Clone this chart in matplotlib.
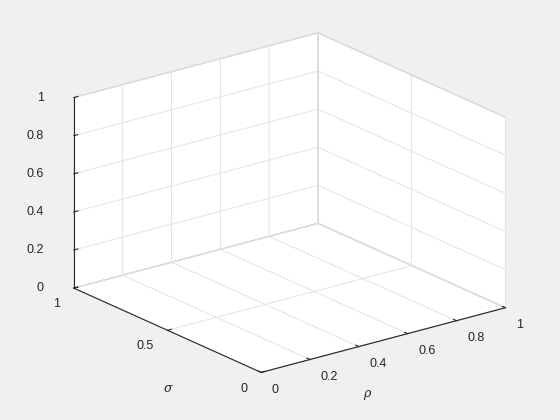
import matplotlib
matplotlib.use('Agg')
import matplotlib.pyplot as plt

# axis ticks and labels (empty 3D axes)
rho_ticks = [0, 0.2, 0.4, 0.6, 0.8, 1]
rho_labels = ['0', '0.2', '0.4', '0.6', '0.8', '1']
sigma_ticks = [0, 0.5, 1]
sigma_labels = ['0', '0.5', '1']
z_ticks = [0, 0.2, 0.4, 0.6, 0.8, 1]
z_labels = ['0', '0.2', '0.4', '0.6', '0.8', '1']

plt.rcParams['font.family'] = ['Liberation Sans', 'DejaVu Sans']
plt.rcParams['grid.color'] = '#dfdfdf'
plt.rcParams['grid.linewidth'] = 0.6

fig = plt.figure(figsize=(5.6, 4.2), dpi=100, facecolor='#f0f0f0')
ax = fig.add_axes([0.007, 0.004, 1.0, 1.0], projection='3d', proj_type='ortho')
ax.set_facecolor('none')
ax.view_init(elev=20.2, azim=-127.5)
ax.set_box_aspect((1, 1, 0.66), zoom=1.11)

ax.set_xlim(0, 1)
ax.set_ylim(0, 1)
ax.set_zlim(0, 1)
ax.set_xticks(rho_ticks)
ax.set_xticklabels(rho_labels, ha='left', va='center_baseline')
ax.set_yticks(sigma_ticks)
ax.set_yticklabels(sigma_labels, ha='right', va='center_baseline')
ax.set_zticks(z_ticks)
ax.set_zticklabels(z_labels, ha='right', va='center_baseline')

for axis in (ax.xaxis, ax.yaxis, ax.zaxis):
    axis.set_pane_color((1, 1, 1, 1))
    axis.pane.set_edgecolor('#d0d0d0')
    axis.line.set_color('#262626')
    axis.line.set_linewidth(0.8)
    axis._axinfo['tick']['inward_factor'] = 0.0
    axis._axinfo['tick']['outward_factor'] = 0.2
    axis._axinfo['tick']['color'] = '#262626'

ax.tick_params(labelsize=9, colors='#262626', pad=1)
ax.zaxis.set_tick_params(pad=3)

# axis labels, placed like the MATLAB ones below the box
fig.text(0.300, 0.076, 'σ', fontsize=9, color='#262626', ha='center', va='center',
         family=['DejaVu Serif'], style='italic')
fig.text(0.655, 0.064, 'ρ', fontsize=9, color='#262626', ha='center', va='center',
         family=['DejaVu Serif'], style='italic')

fig.savefig('out.png', dpi=100, facecolor='#f0f0f0')
